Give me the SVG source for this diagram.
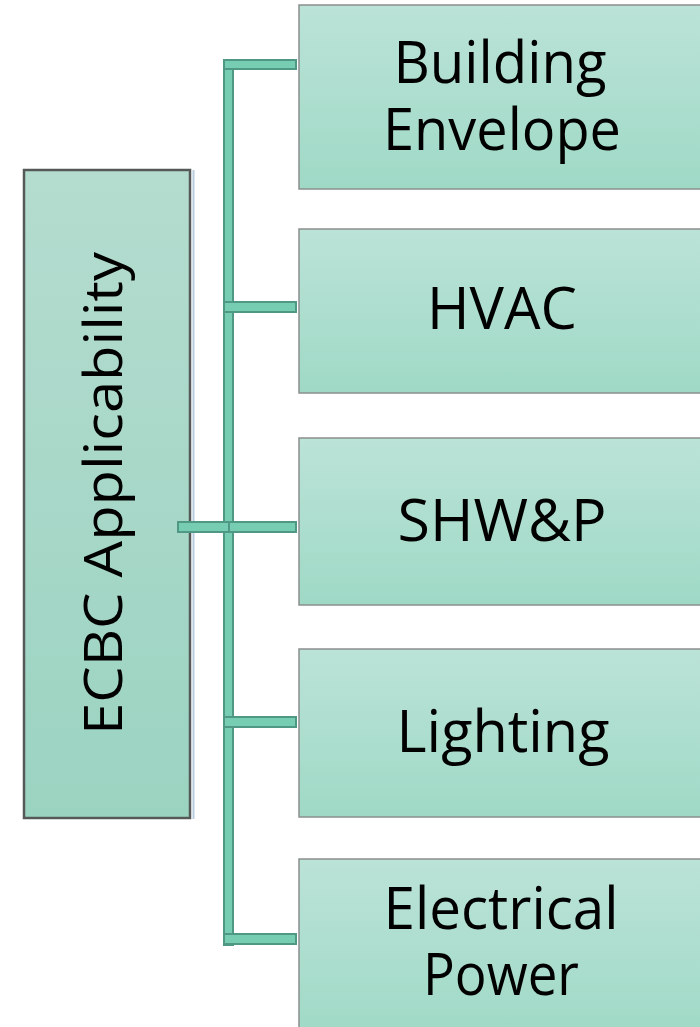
<svg xmlns="http://www.w3.org/2000/svg" width="700" height="1027" viewBox="0 0 700 1027">
  <defs>
    <linearGradient id="boxFill" x1="0" y1="0" x2="0" y2="1">
      <stop offset="0" stop-color="#bbe3d7"/>
      <stop offset="1" stop-color="#9fd9c6"/>
    </linearGradient>
    <linearGradient id="rootFill" x1="0" y1="0" x2="0" y2="1">
      <stop offset="0" stop-color="#b4dccf"/>
      <stop offset="1" stop-color="#9bd3c1"/>
    </linearGradient>
  </defs>
  <style>
    .box { fill: url(#boxFill); stroke: #8a8f8d; stroke-width: 1.5; }
    .root { fill: url(#rootFill); stroke: #555a58; stroke-width: 2.5; }
    .bar { fill: #76cdb2; stroke: #4f9883; stroke-width: 2; }
    .lbl { font-family: "Open Sans", "Liberation Sans", sans-serif; fill: #000; text-anchor: middle; }
  </style>

  <!-- root node -->
  <g id="root">
    <line x1="193.5" y1="170" x2="193.5" y2="819" stroke="#b9cde0" stroke-width="2"/>
    <rect class="root" x="24" y="170" width="166" height="648"/>
    <text class="lbl" font-size="53" transform="translate(122 493.5) rotate(-90)" textLength="483" lengthAdjust="spacingAndGlyphs">ECBC Applicability</text>
  </g>

  <!-- connectors: trunk and branches -->
  <g id="connectors">
    <rect class="bar" x="224" y="60" width="9" height="885"/>
    <rect class="bar" x="224" y="60" width="72" height="9"/>
    <rect class="bar" x="224" y="302" width="72" height="10"/>
    <rect class="bar" x="178" y="522" width="51" height="10"/>
    <rect class="bar" x="229" y="522" width="67" height="10"/>
    <rect class="bar" x="224" y="717" width="72" height="10"/>
    <rect class="bar" x="224" y="934" width="72" height="10"/>
  </g>

  <g id="node-envelope">
    <rect class="box" x="299" y="5" width="410" height="184"/>
    <text class="lbl" font-size="58" x="500" y="83" textLength="213" lengthAdjust="spacingAndGlyphs">Building</text>
    <text class="lbl" font-size="58" x="502" y="150" textLength="238" lengthAdjust="spacingAndGlyphs">Envelope</text>
  </g>

  <g id="node-hvac">
    <rect class="box" x="299" y="229" width="410" height="164"/>
    <text class="lbl" font-size="58" x="502" y="329" textLength="150" lengthAdjust="spacingAndGlyphs">HVAC</text>
  </g>

  <g id="node-shwp">
    <rect class="box" x="299" y="438" width="410" height="167"/>
    <text class="lbl" font-size="58" x="502" y="541" textLength="209" lengthAdjust="spacingAndGlyphs">SHW&amp;P</text>
  </g>

  <g id="node-lighting">
    <rect class="box" x="299" y="649" width="410" height="168"/>
    <text class="lbl" font-size="58" x="503" y="752" textLength="213" lengthAdjust="spacingAndGlyphs">Lighting</text>
  </g>

  <g id="node-power">
    <rect class="box" x="299" y="859" width="410" height="180"/>
    <text class="lbl" font-size="58" x="501" y="929" textLength="235" lengthAdjust="spacingAndGlyphs">Electrical</text>
    <text class="lbl" font-size="58" x="501" y="995" textLength="156" lengthAdjust="spacingAndGlyphs">Power</text>
  </g>
</svg>
